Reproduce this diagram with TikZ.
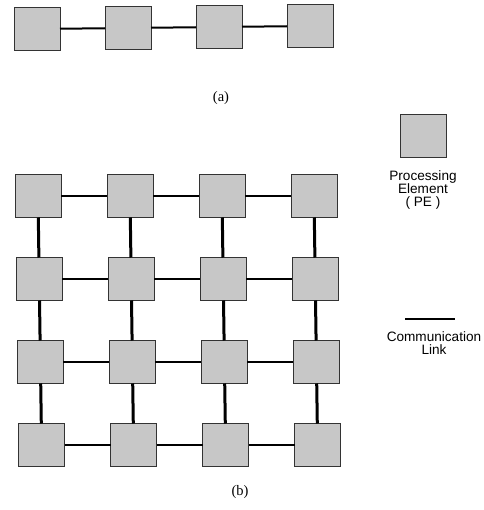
\documentclass[tikz,border=0pt]{standalone}
\usepackage{fontspec}
\setmainfont{Liberation Serif}
\newfontfamily\legendfont{Liberation Sans}
\begin{document}
\begin{tikzpicture}[x=1pt,y=-1pt,
  pe/.style={draw=black!80, line width=0.8pt, fill=black!22, minimum width=46pt, minimum height=43pt, inner sep=0pt, outer sep=0pt},
  hlink/.style={line width=2pt},
  vlink/.style={line width=3pt},
  legendtext/.style={font=\legendfont\fontsize{13.6}{13}\selectfont, align=center, inner sep=0pt},
  caption/.style={font=\fontsize{14.5}{16}\selectfont, inner sep=0pt}]
\useasboundingbox (0,0) rectangle (483,510);
% (a) linear array
\node[pe] (a1) at (37,29) {};
\node[pe] (a2) at (128,28) {};
\node[pe] (a3) at (219,27) {};
\node[pe] (a4) at (310,26) {};
\draw[hlink] (a1) -- (a2);
\draw[hlink] (a2) -- (a3);
\draw[hlink] (a3) -- (a4);
\node[caption] (capa) at (221,98) {(a)};
% (b) mesh
\foreach \r/\y in {1/196,2/279,3/362,4/445}{
  \foreach \c/\x in {1/38,2/130,3/222,4/314}{
    \node[pe] (b\r\c) at ({\x+(\r-1)*1.2},\y) {};
  }
}
\foreach \r in {1,2,3,4}{
  \draw[hlink] (b\r1) -- (b\r2);
  \draw[hlink] (b\r2) -- (b\r3);
  \draw[hlink] (b\r3) -- (b\r4);
}
\foreach \c in {1,2,3,4}{
  \draw[vlink] (b1\c) -- (b2\c);
  \draw[vlink] (b2\c) -- (b3\c);
  \draw[vlink] (b3\c) -- (b4\c);
}
\node[caption] (capb) at (240,492) {(b)};
% legend
\node[pe] (lpe) at (423,136) {};
\node[legendtext, anchor=north] (lpetext) at (423,170) {Processing\\Element\\( PE )};
\coordinate (ll1) at (405,319);
\coordinate (ll2) at (455,319);
\draw[hlink] (ll1) -- (ll2);
\node[legendtext, anchor=north] (lltext) at (434,331) {Communication\\Link};
\end{tikzpicture}
\end{document}
